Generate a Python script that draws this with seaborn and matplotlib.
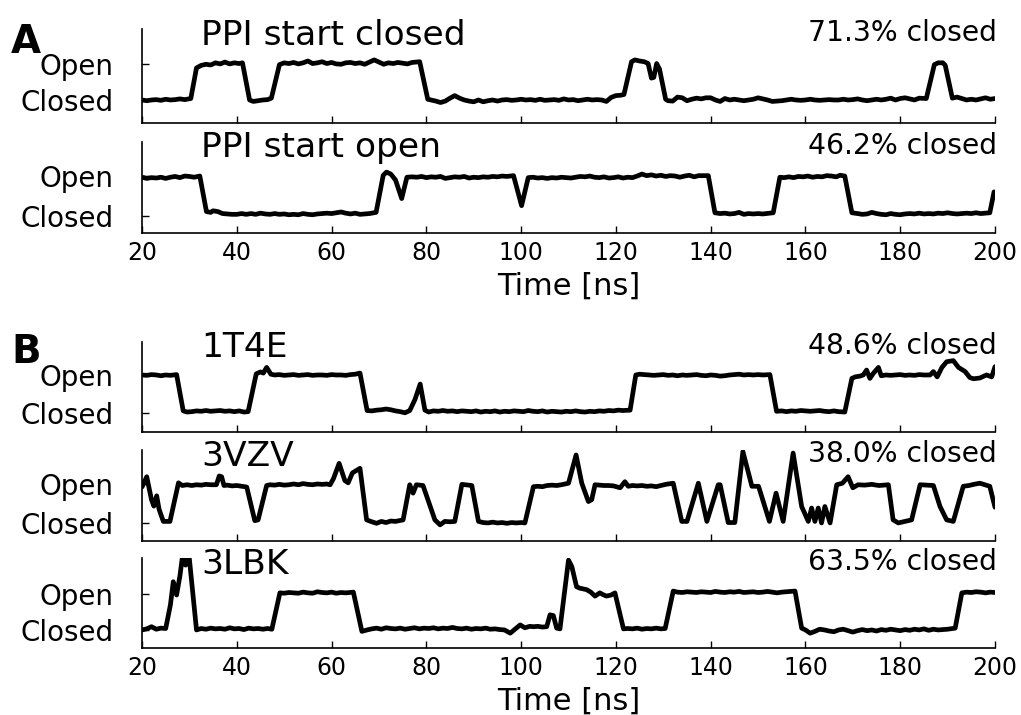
import matplotlib
matplotlib.use("Agg")
import matplotlib.pyplot as plt
import pandas as pd
import seaborn as sns

# ---------------- data ----------------
x_ticks = [20, 40, 60, 80, 100, 120, 140, 160, 180, 200]
state_values = [0, 1]
state_labels = ["Closed", "Open"]

titles = ["PPI start closed", "PPI start open", "1T4E", "3VZV", "3LBK"]
closed_pct = ["71.3% closed", "46.2% closed", "48.6% closed", "38.0% closed", "63.5% closed"]
panel_letters = ["A", "B"]

# (time [ns], state) samples (Closed = 0, Open = 1)
ppi_closed = [
    (20, 0.0), (21, -0.02), (22, 0.0), (23, 0.01), (24, -0.01), (25, 0.02), (26, 0.0), (27, 0.01), (28, 0.03), (29, 0.01), (30.3, 0.04),
    (31.5, 0.88), (32.5, 0.95), (33.5, 0.98), (34.5, 0.96), (35.5, 1.02), (36.5, 0.99), (37.5, 1.04), (38.5, 0.99), (39.5, 1.02), (40.5, 1.0), (41.2, 1.02),
    (42.7, 0.0), (43.5, -0.04), (44.5, -0.02), (45.5, 0.0), (46.5, 0.01), (47.3, 0.05),
    (49.0, 0.97), (50, 1.02), (51, 1.0), (52, 1.03), (53, 0.99), (54, 1.02), (55, 1.07), (56, 1.0), (57, 1.02), (58, 1.05), (59, 1.0), (60, 1.03),
    (61, 0.99), (62, 0.98), (63, 1.02), (64, 1.03), (65, 1.0), (66, 1.02), (67, 0.98), (68, 1.04), (69, 1.1), (70, 1.04), (71, 0.98), (72, 1.02),
    (73, 1.0), (74, 1.03), (75, 1.01), (76, 0.99), (77, 1.03), (78.6, 1.05),
    (80.3, 0.02), (81, 0.0), (82, -0.03), (83, -0.07), (84, -0.03), (85, 0.05), (86, 0.12), (87, 0.05), (88, 0.0), (89, -0.03), (90, -0.05),
    (91, 0.0), (92, -0.05), (93, -0.02), (94, 0.0), (95, -0.03), (96, 0.0), (97, 0.01), (98, -0.01), (99, 0.0), (100, 0.02), (101, 0.0),
    (102, 0.01), (103, -0.01), (104, 0.02), (105, -0.01), (106, 0.0), (107, 0.01), (108, -0.01), (109, 0.03), (110, 0.0), (111, 0.01),
    (112, -0.02), (113, 0.0), (114, 0.02), (115, 0.0), (116, 0.01), (117, 0.0), (118, -0.04), (119, 0.07), (120, 0.12), (121, 0.13), (121.7, 0.15),
    (123.3, 1.05), (124, 1.1), (125, 1.07), (126, 1.05), (126.8, 1.0), (127.5, 0.6), (128, 0.62), (128.6, 1.0), (129.2, 0.85), (130.5, 0.02),
    (131, -0.02), (132, -0.03), (133, 0.08), (134, 0.06), (135, -0.02), (136, 0.02), (137, 0.05), (138, 0.03), (139, 0.06), (140, 0.06),
    (141, 0.0), (142, -0.04), (143, 0.04), (144, 0.0), (145, 0.02), (146, 0.0), (147, -0.02), (148, 0.0), (149, 0.02), (150, 0.06),
    (151, 0.03), (152, 0.0), (153, -0.04), (154, -0.03), (155, -0.02), (156, 0.0), (157, 0.02), (158, 0.0), (159, -0.01), (160, 0.0),
    (161, 0.02), (162, 0.0), (163, -0.01), (164, 0.0), (165, 0.01), (166, 0.0), (167, 0.0), (168, 0.02), (169, 0.0), (170, 0.01),
    (171, 0.03), (172, 0.0), (173, -0.02), (174, 0.0), (175, 0.02), (176, 0.0), (177, 0.02), (178, 0.05), (179, 0.0), (180, 0.04),
    (181, 0.06), (182, 0.03), (183, 0.0), (184, 0.05), (185.5, 0.04),
    (187.2, 0.97), (188, 1.02), (189, 1.02), (189.5, 0.95), (191, 0.05), (192, 0.08), (193, 0.04), (194, 0.0), (195, 0.02), (196, 0.0),
    (197, 0.03), (198, 0.06), (199, 0.02), (200, 0.04),
]

ppi_open = [
    (20, 0.97), (21, 0.94), (22, 0.96), (23, 0.95), (24, 0.97), (25, 0.94), (26, 0.97), (27, 0.99), (28, 0.96), (29, 1.0), (30, 0.99), (31, 0.97), (32.2, 1.0),
    (33.6, 0.1), (34.5, 0.08), (35, 0.12), (36, 0.1), (37, 0.05), (38, 0.04), (39, 0.03), (40, 0.03), (41, 0.05), (42, 0.03), (43, 0.05),
    (44, 0.03), (45, 0.06), (46, 0.04), (47, 0.03), (48, 0.05), (49, 0.03), (50, 0.04), (51, 0.02), (52, 0.03), (53, 0.02), (54, 0.05),
    (55, 0.03), (56, 0.02), (57, 0.04), (58, 0.05), (59, 0.06), (60, 0.05), (61, 0.07), (62, 0.09), (63, 0.06), (64, 0.04), (65, 0.06),
    (66, 0.03), (67, 0.04), (68, 0.05), (69.4, 0.08),
    (70.9, 1.02), (71.6, 1.1), (72.5, 1.05), (73.5, 0.9), (74.8, 0.43), (75.9, 0.97), (77, 0.98), (78, 0.97), (79, 0.99), (80, 0.96),
    (81, 0.98), (82, 0.97), (83, 0.99), (84, 0.94), (85, 0.96), (86, 0.98), (87, 0.97), (88, 0.99), (89, 0.95), (90, 0.97), (91, 0.96),
    (92, 0.98), (93, 0.97), (94, 0.99), (95, 0.98), (96, 1.0), (97, 0.99), (98.4, 1.01), (100.1, 0.25), (101.5, 0.96), (102.5, 0.97),
    (103.5, 0.95), (104.5, 0.96), (105.5, 0.94), (106.5, 0.96), (107.5, 0.95), (108.5, 0.97), (109.5, 0.96), (110.5, 0.95), (111.5, 0.97),
    (112.5, 0.99), (113.5, 0.98), (114.5, 1.0), (115.5, 0.97), (116.5, 0.96), (117.5, 0.98), (118.5, 0.95), (119.5, 0.96), (120.5, 0.98),
    (121.5, 0.95), (122.5, 0.97), (123.5, 0.96), (124.5, 1.0), (125.5, 1.05), (126.5, 1.01), (127.5, 1.03), (128.5, 1.0), (129.5, 1.02),
    (130.5, 0.99), (131.5, 1.01), (132.5, 1.0), (133.5, 0.97), (134.5, 1.0), (135.5, 1.02), (136.5, 0.98), (137.5, 1.01), (139.5, 1.01),
    (140.9, 0.07), (142, 0.05), (143, 0.06), (144, 0.04), (145, 0.05), (146, 0.08), (147, 0.03), (148, 0.05), (149, 0.04), (150, 0.05),
    (151, 0.04), (153.2, 0.07),
    (154.6, 0.97), (155.5, 0.96), (156.5, 0.98), (157.5, 0.96), (158.5, 0.99), (159.5, 0.98), (160.5, 1.0), (161.5, 0.97), (162.5, 0.99),
    (163.5, 0.98), (164.5, 1.01), (165.5, 1.0), (166.5, 0.98), (167.3, 1.02), (168.3, 1.0),
    (169.8, 0.07), (171, 0.05), (172, 0.03), (173, 0.04), (174, 0.08), (175, 0.05), (176, 0.03), (177, 0.02), (178, 0.05), (179, 0.03),
    (180, 0.02), (181, 0.04), (182, 0.05), (183, 0.04), (184, 0.06), (185, 0.04), (186, 0.05), (187, 0.04), (188, 0.06), (189, 0.05),
    (190, 0.07), (191, 0.05), (192, 0.04), (193, 0.05), (194, 0.06), (195, 0.05), (196, 0.07), (197, 0.05), (198.9, 0.07), (199.8, 0.6),
]

trace_1t4e = [
    (20, 1.0), (21, 0.99), (22, 1.01), (23, 1.0), (24, 0.98), (25, 1.0), (26, 0.99), (27.3, 1.01),
    (28.7, 0.05), (29.5, 0.02), (30.5, 0.03), (31.5, 0.05), (32.5, 0.04), (33.5, 0.06), (34.5, 0.04), (35.5, 0.05), (36.5, 0.06),
    (37.5, 0.04), (38.5, 0.05), (39.5, 0.03), (40.5, 0.05), (41.5, 0.02), (42.4, 0.03),
    (44.1, 1.03), (45, 1.08), (45.6, 1.05), (46.3, 1.2), (47.2, 1.02), (48, 1.0), (49, 1.01), (50, 0.99), (51, 1.0), (52, 1.01), (53, 0.99),
    (54, 1.0), (55, 1.01), (56, 0.99), (57, 1.0), (58, 1.0), (59, 0.99), (60, 1.01), (61, 1.0), (62, 1.0), (63, 0.99), (64, 1.01), (65, 1.02), (66, 1.05),
    (67.5, 0.06), (68.5, 0.05), (69.5, 0.07), (70.5, 0.08), (71.5, 0.1), (72.5, 0.08), (73.5, 0.05), (74.5, 0.03), (75.5, 0.0), (76.5, 0.06),
    (77.6, 0.35), (78.7, 0.76), (79.7, 0.07), (80.5, 0.02), (81.5, 0.05), (82.5, 0.04), (83.5, 0.06), (84.5, 0.04), (85.5, 0.05), (86.5, 0.03),
    (87.5, 0.05), (88.5, 0.04), (89.5, 0.03), (90.5, 0.05), (91.5, 0.02), (92.5, 0.04), (93.5, 0.03), (94.5, 0.05), (95.5, 0.02), (96.5, 0.04),
    (97.5, 0.03), (98.5, 0.05), (99.5, 0.04), (100.5, 0.03), (101.5, 0.06), (102.5, 0.04), (103.5, 0.03), (104.5, 0.05), (105.5, 0.02),
    (106.5, 0.04), (107.5, 0.03), (108.5, 0.02), (109.5, 0.04), (110.5, 0.03), (111.5, 0.05), (112.5, 0.03), (113.5, 0.02), (114.5, 0.04),
    (115.5, 0.03), (116.5, 0.05), (117.5, 0.04), (118.5, 0.06), (119.5, 0.05), (120.5, 0.07), (121.5, 0.06), (123, 0.07),
    (124.2, 1.0), (125, 1.02), (126, 1.01), (127, 1.0), (128, 0.99), (129, 1.0), (130, 1.01), (131, 0.99), (132, 1.0), (133, 0.98), (134, 1.0),
    (135, 0.99), (136, 1.0), (137, 1.01), (138, 0.99), (139, 0.98), (140, 1.0), (141, 0.99), (142, 0.97), (143, 0.98), (144, 1.0), (145, 1.01),
    (146, 1.02), (147, 1.0), (148, 1.01), (149, 1.0), (150, 1.01), (151, 1.0), (152.5, 1.01),
    (153.9, 0.04), (155, 0.05), (156, 0.03), (157, 0.05), (158, 0.04), (159, 0.06), (160, 0.05), (161, 0.04), (162, 0.05), (163, 0.06),
    (164, 0.04), (165, 0.03), (166, 0.05), (167, 0.03), (168.3, 0.02),
    (169.8, 0.91), (170.5, 0.95), (171.5, 0.97), (172.2, 1.0), (172.9, 1.13), (173.6, 0.91), (174.3, 1.04), (175.4, 1.2), (176, 0.98),
    (177, 1.0), (178, 0.99), (179, 1.0), (180, 1.01), (181, 0.99), (182, 1.0), (183, 0.99), (184, 1.01), (185, 1.0), (186.3, 1.0),
    (187, 1.09), (187.8, 0.95), (188.8, 1.2), (189.8, 1.35), (191.2, 1.38), (192.3, 1.2), (193.7, 1.09), (194.7, 0.93), (195.5, 0.9),
    (196.8, 0.92), (198.2, 1.0), (199.3, 0.95), (200, 1.22),
]

trace_3vzv = [
    (20, 0.93), (21, 1.2), (22, 0.6), (22.5, 0.43), (23.1, 0.7), (23.6, 0.35), (24.5, 0.03), (25.9, 0.03), (27.7, 1.04), (28.5, 0.97),
    (29.5, 0.99), (30.5, 0.97), (31.5, 0.99), (32.5, 0.98), (33.5, 1.0), (34.5, 0.99), (35.7, 0.99), (36.3, 1.22), (36.8, 1.2), (37.3, 0.97),
    (38, 0.98), (39, 0.96), (40, 0.97), (41, 0.95), (42.1, 0.93), (43.8, 0.05), (44.5, 0.07), (46.3, 0.97), (47, 0.99), (48, 0.98), (49, 1.0),
    (50, 0.98), (51, 0.99), (52, 1.01), (53, 0.99), (54, 1.02), (55, 1.0), (56, 0.99), (57, 1.01), (58, 1.0), (59, 1.01), (59.7, 0.99),
    (60.4, 1.15), (61.6, 1.55), (62.8, 1.1), (63.5, 1.04), (64.4, 1.3), (66, 1.42), (67.4, 0.07), (68.5, 0.02), (69.5, -0.02), (70.5, 0.03),
    (71.5, 0.0), (72.5, 0.04), (73.5, 0.03), (75.1, 0.07), (76.5, 0.99), (77.2, 0.77), (77.9, 0.99), (79.3, 0.97), (81.8, 0.07), (82.9, -0.06),
    (83.9, 0.03), (85, 0.02), (86, 0.03), (87.5, 1.0), (89.6, 0.97), (91, 0.03), (92, 0.0), (93, -0.01), (94, 0.01), (95, -0.01), (96, 0.0),
    (97, -0.02), (98, 0.0), (99, -0.01), (100, 0.0), (100.8, -0.01), (102.6, 0.94), (103.5, 0.95), (104.5, 0.94), (105.5, 0.97), (106.5, 0.98),
    (107.5, 0.97), (108.5, 0.99), (110, 1.03), (111.6, 1.77), (112.8, 1.03), (114.2, 0.55), (114.9, 0.6), (115.6, 0.99), (116.5, 0.98),
    (117.5, 0.97), (118.5, 0.97), (119.5, 0.96), (120.9, 0.91), (121.9, 1.07), (122.6, 0.95), (123.5, 0.97), (124.5, 0.96), (125.5, 0.97),
    (126.5, 0.95), (127.5, 0.96), (128.5, 0.94), (129.5, 0.97), (130.5, 1.0), (132.1, 1.03), (133.9, 0.03), (135, 0.03), (137.4, 1.03),
    (139.2, 0.03), (141.6, 0.99), (142, 0.99), (143.7, 0.0), (145.1, 0.0), (146.8, 1.86), (148.7, 0.95), (150.1, 0.95), (152.4, 0.03),
    (153.8, 0.77), (155.3, 0.03), (157.4, 1.82), (159.2, 0.42), (160.6, 0.03), (161.3, 0.38), (162, 0.03), (162.7, 0.38), (163.4, -0.01),
    (164.1, 0.42), (165.2, -0.01), (166.6, 0.99), (167.8, 1.03), (169, 1.2), (170, 0.91), (171.1, 0.99), (172.5, 0.98), (174, 1.0),
    (175.5, 0.97), (177.5, 0.99), (178.5, 0.07), (179.6, -0.01), (181, 0.03), (182.4, 0.07), (184.2, 0.99), (185.5, 0.98), (187, 0.97),
    (188.4, 0.42), (189.8, 0.07), (191.2, 0.03), (193.3, 0.95), (194.5, 0.97), (195.5, 1.0), (196.8, 1.03), (198.9, 0.95), (200, 0.4),
]

trace_3lbk = [
    (20, 0.0), (21, 0.03), (22, 0.09), (23, 0.02), (24, 0.05), (25, 0.04), (26, 0.7), (26.6, 1.34), (27.3, 0.97), (28, 1.5), (28.6, 2.1),
    (29.2, 1.8), (29.9, 2.1), (31.5, 0.0), (32.5, 0.04), (33.5, 0.02), (34.5, 0.05), (35.5, 0.03), (36.5, 0.04), (37.5, 0.02), (38.5, 0.06),
    (39.5, 0.03), (40.5, 0.04), (41.5, 0.01), (42.5, 0.05), (43.5, 0.03), (44.5, 0.04), (45.5, 0.02), (46.5, 0.04), (47.4, 0.02),
    (49.1, 1.03), (50, 1.02), (51, 1.04), (52, 1.03), (53, 1.02), (54, 1.05), (55, 1.03), (56, 1.02), (57, 1.06), (58, 1.04), (59, 1.03),
    (60, 1.05), (61, 1.02), (62, 1.04), (63, 1.03), (64.6, 1.05),
    (66.4, -0.04), (67.5, 0.0), (68.5, 0.03), (69.5, 0.05), (70.5, 0.02), (71.5, 0.06), (72.5, 0.04), (73.5, 0.03), (74.5, 0.05), (75.5, 0.02),
    (76.5, 0.04), (77.5, 0.06), (78.5, 0.03), (79.5, 0.05), (80.5, 0.04), (81.5, 0.06), (82.5, 0.03), (83.5, 0.05), (84.5, 0.04), (85.5, 0.07),
    (86.5, 0.04), (87.5, 0.03), (88.5, 0.05), (89.5, 0.02), (90.5, 0.04), (91.5, 0.03), (92.5, 0.05), (93.5, 0.02), (94.5, 0.03), (95.5, 0.01),
    (96.5, 0.0), (97.7, -0.09), (99, 0.05), (99.8, 0.14), (100.8, 0.06), (101.8, 0.1), (102.6, 0.09), (103.5, 0.1), (104.5, 0.08), (105.4, 0.09),
    (106.1, 0.42), (106.8, 0.4), (107.5, 0.05), (108.2, 0.03), (110, 1.94), (110.7, 1.76), (111.7, 1.2), (112.4, 1.16), (113.8, 1.12),
    (114.7, 1.05), (115.6, 0.94), (116.6, 1.03), (117.3, 0.98), (118, 0.94), (119, 0.97), (119.8, 1.03), (121.6, 0.03), (122.5, 0.04),
    (123.5, 0.03), (124.5, 0.05), (125.5, 0.02), (126.5, 0.04), (127.5, 0.03), (128.5, 0.05), (129.5, 0.03), (130.4, 0.04),
    (132.1, 1.08), (133, 1.05), (134, 1.04), (135, 1.06), (136, 1.05), (137, 1.04), (138, 1.06), (139, 1.05), (140, 1.04), (141, 1.07),
    (142, 1.05), (143, 1.04), (144, 1.06), (145, 1.05), (146, 1.07), (147, 1.04), (148, 1.05), (149, 1.06), (150, 1.04), (151, 1.05),
    (152, 1.07), (153, 1.05), (154, 1.03), (155, 1.05), (156, 1.06), (157.8, 1.08),
    (159.2, 0.05), (160, 0.0), (161, -0.09), (162, -0.04), (163, 0.02), (164, 0.0), (165, -0.03), (166, -0.05), (167, 0.0), (168, 0.02),
    (169, -0.02), (170, -0.06), (171, -0.02), (172, 0.01), (173, -0.02), (174, 0.0), (175, -0.03), (176, 0.01), (177, -0.01), (178, 0.02),
    (179, 0.0), (180, -0.02), (181, 0.01), (182, -0.01), (183, 0.02), (184, 0.0), (185, 0.03), (186, -0.01), (187, 0.02), (188, 0.0),
    (189, 0.01), (190, 0.02), (191.6, 0.05),
    (193, 1.03), (194, 1.05), (195, 1.04), (196, 1.06), (197, 1.05), (198, 1.03), (199, 1.05), (200, 1.04),
]

traces = [ppi_closed, ppi_open, trace_1t4e, trace_3vzv, trace_3lbk]

# ---------------- layout (pixels in a 1021x715 figure) ----------------
W, H = 1021, 715
ax_left, ax_right = 142, 995
panel_px = [(29.3, 123.3), (141.7, 233.3), (341.7, 431.7), (450.0, 540.5), (558.3, 648.3)]
panel_ylim = [(-0.64, 1.94), (-0.45, 1.87), (-0.50, 1.88), (-0.47, 1.90), (-0.51, 1.99)]
show_xlabels = [False, True, False, False, True]

sns.set_style("ticks")
plt.rcParams["font.family"] = ["DejaVu Sans"]
plt.rcParams.update({
    "axes.linewidth": 1.2,
    "axes.edgecolor": "black",
    "text.color": "black",
    "axes.labelcolor": "black",
    "xtick.color": "black",
    "ytick.color": "black",
})

fig = plt.figure(figsize=(W / 100, H / 100), dpi=100)

for i, (trace, (top, bot), ylim) in enumerate(zip(traces, panel_px, panel_ylim)):
    ax = fig.add_axes([ax_left / W, 1 - bot / H, (ax_right - ax_left) / W, (bot - top) / H])
    df = pd.DataFrame(trace, columns=["time", "state"])
    sns.lineplot(data=df, x="time", y="state", ax=ax, color="black", linewidth=3.4,
                 estimator=None, sort=False)
    ax.set_xlim(x_ticks[0], x_ticks[-1])
    ax.set_ylim(*ylim)
    ax.set_xticks(x_ticks)
    ax.set_yticks(state_values)
    ax.set_yticklabels(state_labels)
    sns.despine(ax=ax)
    ax.tick_params(axis="both", direction="in", length=5, width=1, colors="black")
    ax.tick_params(axis="y", labelsize=20, pad=20.5)
    ax.tick_params(axis="x", labelsize=17, pad=5.5)
    ax.set_ylabel("")
    if show_xlabels[i]:
        ax.set_xlabel("Time [ns]", fontsize=22, labelpad=5, color="black")
    else:
        ax.set_xlabel("")
        ax.tick_params(axis="x", labelbottom=False)
    ax.annotate(titles[i], xy=(0.069, 1.0), xycoords="axes fraction",
                xytext=(0, -11.2), textcoords="offset points",
                ha="left", va="baseline", fontsize=24.8, color="black")
    ax.annotate(closed_pct[i], xy=(1.0, 1.0), xycoords="axes fraction",
                xytext=(1.2, -8.7), textcoords="offset points",
                ha="right", va="baseline", fontsize=20.3, color="black")

fig.text(11 / W, 1 - 53.3 / H, panel_letters[0], fontsize=28, fontweight="bold",
         ha="left", va="baseline", color="black")
fig.text(11 / W, 1 - 363 / H, panel_letters[1], fontsize=28, fontweight="bold",
         ha="left", va="baseline", color="black")

fig.savefig("out.png", dpi=100)
